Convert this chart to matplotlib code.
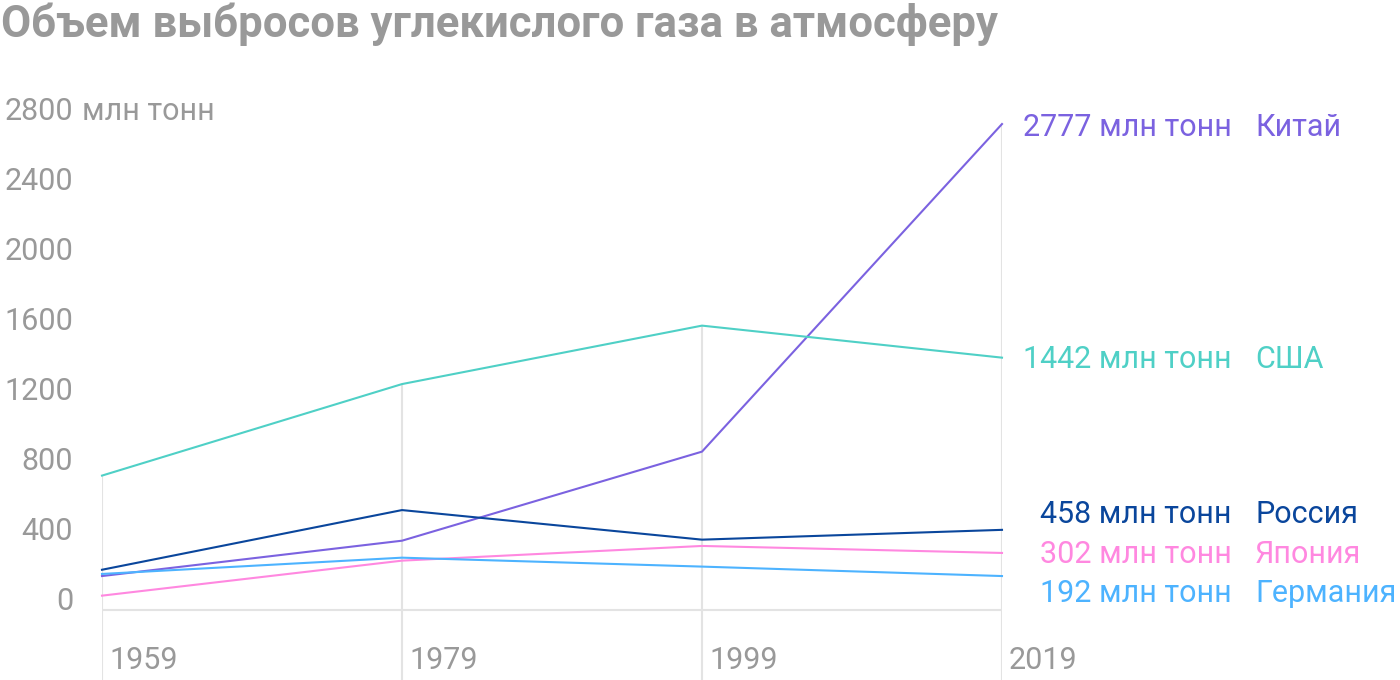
import matplotlib.pyplot as plt
from matplotlib import font_manager

# Data (млн тонн CO2)
years = [1959, 1979, 1999, 2019]
china = [194, 396, 905, 2777]
usa = [768, 1291, 1625, 1442]
russia = [230, 571, 402, 458]
japan = [82, 282, 366, 326]
germany = [206, 299, 248, 194]

countries = ['Китай', 'США', 'Россия', 'Япония', 'Германия']
last_values = [2777, 1442, 458, 302, 192]
y_ticks = [0, 400, 800, 1200, 1600, 2000, 2400, 2800]

series = [china, usa, russia, japan, germany]
colors = ['#7b62e0', '#4fd0c6', '#0a469c', '#ff88e0', '#4db3ff']
# baseline positions of the right-hand labels (spread so they don't overlap)
label_y = [2709, 1383, 497, 269, 46]

title_font = 'Liberation Sans Narrow'
names = {f.name for f in font_manager.fontManager.ttflist}
if title_font not in names:
    title_font = 'Roboto'
plt.rcParams['font.family'] = ['Roboto', 'DejaVu Sans']

grey = '#999999'
grid = '#e3e3e3'
fs = 22

fig = plt.figure(figsize=(14, 6.8), dpi=100)
ax = fig.add_axes([102 / 1400, 0, 900 / 1400, 560 / 680])
ax.set_xlim(1959, 2019)
ax.set_ylim(-400, 2800)
ax.axis('off')

# vertical guides from the highest point down to the bottom
tops = [max(v) for v in zip(*series)]
ax.vlines(years, -400, tops, color=grid, lw=1.5, zorder=1)
ax.hlines(0, years[0], years[-1], color=grid, lw=1.5, zorder=1)

for vals, c in zip(series, colors):
    ax.plot(years, vals, color=c, lw=1.5, zorder=3, clip_on=False)

# y labels
for v in y_ticks:
    ax.annotate(str(v), xy=(0, v), xycoords=('axes fraction', 'data'),
                xytext=(-29 * 0.72, 0), textcoords='offset points',
                ha='right', va='baseline', fontsize=fs, color=grey)
ax.annotate('млн тонн', xy=(0, 2800), xycoords=('axes fraction', 'data'),
            xytext=(-20 * 0.72, 0), textcoords='offset points',
            ha='left', va='baseline', fontsize=fs, color=grey)

# x labels
for yr in years:
    ax.annotate(str(yr), xy=(yr, -337), xycoords='data',
                xytext=(7 * 0.72, 0), textcoords='offset points',
                ha='left', va='baseline', fontsize=fs, color=grey)

# right-hand labels
for name, val, ly, c in zip(countries, last_values, label_y, colors):
    ax.annotate(f'{val} млн тонн', xy=(years[-1], ly), xycoords='data',
                xytext=(230 * 0.72, 0), textcoords='offset points',
                ha='right', va='baseline', fontsize=fs, color=c,
                annotation_clip=False)
    ax.annotate(name, xy=(years[-1], ly), xycoords='data',
                xytext=(253 * 0.72, 0), textcoords='offset points',
                ha='left', va='baseline', fontsize=fs, color=c,
                annotation_clip=False)

fig.text(1 / 1400, 1 - 37 / 680, 'Объем выбросов углекислого газа в атмосферу',
         family=title_font, fontweight='bold', fontsize=31.5, color=grey,
         ha='left', va='baseline')

fig.savefig('out.png', dpi=100)
